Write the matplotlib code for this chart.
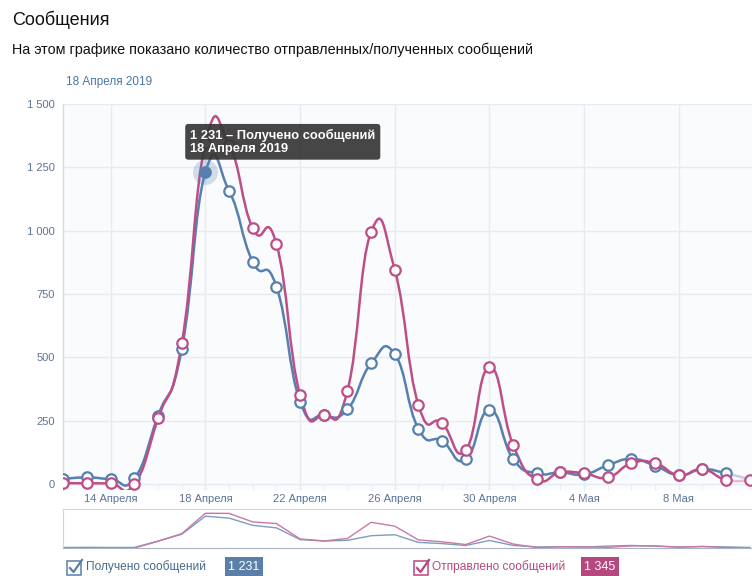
import matplotlib
matplotlib.use("Agg")
import matplotlib.pyplot as plt
import matplotlib.dates as mdates
from matplotlib.path import Path
from matplotlib.patches import PathPatch, Rectangle
import numpy as np
import pandas as pd

plt.rcParams['font.family'] = ['Liberation Sans', 'DejaVu Sans']

# ---------------- data ----------------
dates = pd.date_range("2019-04-12", "2019-05-11", freq="D")
received = [20, 26, 20, 22, 270, 533, 1231, 1157, 877, 779, 325, 272, 295, 476, 513,
            217, 170, 97, 292, 99, 42, 46, 38, 74, 99, 72, 35, 58, 42, 18]
sent = [3, 3, 2, 0, 259, 555, 1345, 1340, 1009, 947, 351, 272, 368, 995, 845,
        312, 240, 134, 461, 154, 18, 46, 42, 26, 82, 82, 35, 58, 16, 16]
tick_dates = ["2019-04-14", "2019-04-18", "2019-04-22", "2019-04-26",
              "2019-04-30", "2019-05-04", "2019-05-08"]
tick_labels = ["14 Апреля", "18 Апреля", "22 Апреля", "26 Апреля",
               "30 Апреля", "4 Мая", "8 Мая"]
y_ticks = [0, 250, 500, 750, 1000, 1250, 1500]
y_labels = ["0", "250", "500", "750", "1 000", "1 250", "1 500"]
received_total = "1 231"
sent_total = "1 345"
highlight_idx = 6  # 18 Апреля

BLUE = "#5580b0"
PINK = "#bd4f88"
GRID = "#e6ebf1"
TICKC = "#5b7394"

W, H = 752, 576
fig = plt.figure(figsize=(W / 100, H / 100), dpi=100)
fig.patch.set_facecolor("white")


def fx(x):
    return x / W


def fy(y):
    return 1 - y / H


x = mdates.date2num(dates)
x0 = x[0]
day_px = 23.67
left_px, right_px = 63.4, 752
top_px, bot_px = 104, 490

ax = fig.add_axes([fx(left_px), fy(bot_px), (right_px - left_px) / W, (bot_px - top_px) / H])
ax.set_facecolor("#fafbfc")
ax.set_xlim(x0, x0 + (right_px - left_px) / day_px)
ax.set_ylim(-1500 * 6 / 380, 1500)


def spline_segments(xs, ys, f=0.5):
    xs = np.asarray(xs, float)
    ys = np.asarray(ys, float)
    n = len(xs)
    segs = []
    for i in range(n - 1):
        dx = xs[i + 1] - xs[i]
        if i == 0:
            c1 = (xs[i], ys[i])
        else:
            m = (ys[i + 1] - ys[i - 1]) / 2
            c1 = (xs[i] + f * dx, ys[i] + f * m)
        if i + 1 == n - 1:
            c2 = (xs[i + 1], ys[i + 1])
        else:
            m = (ys[i + 2] - ys[i]) / 2
            c2 = (xs[i + 1] - f * dx, ys[i + 1] - f * m)
        segs.append([(xs[i], ys[i]), c1, c2, (xs[i + 1], ys[i + 1])])
    return segs


def draw_spline(ax, xs, ys, color, lw=1.8, z=3):
    segs = spline_segments(xs, ys)
    verts, codes = [], []
    for k, s in enumerate(segs[:-1]):
        if k == 0:
            verts.append(s[0]); codes.append(Path.MOVETO)
        verts.extend(s[1:]); codes.extend([Path.CURVE4] * 3)
    ax.add_patch(PathPatch(Path(verts, codes), fill=False, edgecolor=color, lw=lw,
                           zorder=z, capstyle="round", joinstyle="round"))
    s = segs[-1]
    ax.add_patch(PathPatch(Path(s, [Path.MOVETO] + [Path.CURVE4] * 3), fill=False,
                           edgecolor=color, lw=lw, alpha=0.35, zorder=z))


# grid
for yt in y_ticks:
    ax.axhline(yt, color=GRID, lw=1, zorder=1)
for td in tick_dates:
    ax.axvline(mdates.date2num(pd.Timestamp(td)), color=GRID, lw=1, zorder=1)

draw_spline(ax, x, received, BLUE, z=3)
draw_spline(ax, x, sent, PINK, z=4)

ms = 7.5
ax.plot(x[:-1], received[:-1], "o", ms=ms, mfc="white", mec=BLUE, mew=1.6, zorder=5,
        linestyle="none")
ax.plot(x, sent, "o", ms=ms, mfc="white", mec=PINK, mew=1.6, zorder=6, linestyle="none")
# highlighted point
ax.plot(x[highlight_idx], received[highlight_idx], "o", ms=18, color=BLUE, alpha=0.25,
        mew=0, zorder=7)
ax.plot(x[highlight_idx], received[highlight_idx], "o", ms=8, color=BLUE, mew=0, zorder=8)

ax.set_yticks(y_ticks)
ax.set_yticklabels(y_labels)
ax.set_xticks(mdates.date2num(pd.to_datetime(tick_dates)))
ax.set_xticklabels(tick_labels)
ax.set_xticks(x, minor=True)
ax.tick_params(axis="y", length=0, pad=6, labelsize=8, labelcolor=TICKC)
ax.tick_params(axis="x", which="major", length=5, direction="in", color=GRID, pad=3,
               labelsize=8, labelcolor=TICKC)
ax.tick_params(axis="x", which="minor", length=5, direction="in", color=GRID)
for s in ["top", "right", "bottom"]:
    ax.spines[s].set_visible(False)
ax.spines["left"].set_color("#d3dbe5")
ax.spines["left"].set_linewidth(1)

# tooltip
ax.annotate(f"{received_total} – Получено сообщений\n18 Апреля 2019",
            xy=(x[highlight_idx], received[highlight_idx]), xytext=(-11, 12.5),
            textcoords="offset points", ha="left", va="bottom", fontsize=9.3,
            color="white", fontweight="bold", linespacing=1.1, zorder=20,
            bbox=dict(boxstyle="round,pad=0.38,rounding_size=0.25", fc="#363636",
                      ec="none", alpha=0.92))

# navigator
nav = fig.add_axes([fx(left_px), fy(548), (right_px - left_px) / W, (548 - 509) / H])
nav.set_xlim(ax.get_xlim())
nav.set_ylim(0, 1510)
nav.plot(x, received, color="#7d9cc2", lw=1)
nav.plot(x, sent, color="#c978a6", lw=1)
nav.set_xticks([]); nav.set_yticks([])
nav.spines["right"].set_visible(False)
for s in ["top", "left"]:
    nav.spines[s].set_color("#cfd7e1")
nav.spines["bottom"].set_color("#aab4c0")
nav.patch.set_alpha(0)

# titles
fig.text(fx(12), fy(20), "Сообщения", fontsize=13, color="#111111", va="center",
         ha="left")
fig.text(fx(12), fy(50), "На этом графике показано количество отправленных/полученных сообщений",
         fontsize=10.4, color="#111111", va="center", ha="left")
fig.text(fx(66), fy(82), "18 Апреля 2019", fontsize=8.5, color="#4a76a8", va="center",
         ha="left")


# legend
def checkbox(xp, yp, color):
    fig.patches.append(Rectangle((fx(xp), fy(yp + 14)), 14 / W, 14 / H, transform=fig.transFigure,
                                 fill=False, ec=color, lw=1.1))
    fig.lines.append(plt.Line2D([fx(xp + 3), fx(xp + 6.5), fx(xp + 15)],
                                [fy(yp + 7), fy(yp + 11), fy(yp - 1)],
                                transform=fig.transFigure, color=color, lw=1.6))


checkbox(67, 561, "#5a7fa8")
fig.text(fx(86), fy(567), "Получено сообщений", fontsize=8.6, color="#47698f",
         va="center", ha="left")
fig.text(fx(244), fy(567), received_total, fontsize=9, color="white", va="center",
         ha="center", bbox=dict(boxstyle="square,pad=0.3", fc="#5a7fa8", ec="none"))
checkbox(414, 561, "#b5487f")
fig.text(fx(432), fy(567), "Отправлено сообщений", fontsize=8.6, color="#b5487f",
         va="center", ha="left")
fig.text(fx(600), fy(567), sent_total, fontsize=9, color="white", va="center",
         ha="center", bbox=dict(boxstyle="square,pad=0.3", fc="#b5487f", ec="none"))

fig.savefig("out.png", dpi=100)
